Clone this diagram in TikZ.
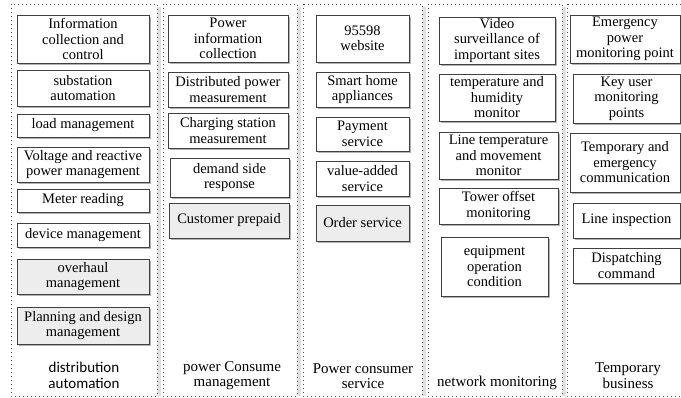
\documentclass[tikz,border=0pt]{standalone}
\usepackage{fontspec}
\setmainfont{Liberation Serif}
\newfontfamily\labelsans{Carlito}
\usetikzlibrary{shadows}

% one service box given by its corners (x1,y1) and (x2,y2)
\newcommand{\cellbox}[7][]{%
  \pgfmathsetmacro\cbw{#5-#3}\pgfmathsetmacro\cbh{#6-#4}%
  \node[box,#1,minimum width=\cbw pt,minimum height=\cbh pt]
    (#2) at ({(#3+#5)/2},{(#4+#6)/2}) {#7};}

% one dotted column frame with its light shadow on the right
\newcommand{\column}[5]{%
  \fill[colshadow] (#4,#3+3) rectangle (#4+3.5,#5);
  \draw[colframe] (#2,#3) rectangle (#4,#5);}

\tikzset{
  box/.style={draw=black!75, line width=0.8pt, fill=white, align=center,
    inner sep=0pt, font=\fontsize{14.5}{15.5}\selectfont,
    drop shadow={shadow xshift=1.8pt, shadow yshift=-1.8pt, fill=black!30, opacity=1}},
  shaded/.style={fill=black!7},
  colframe/.style={draw=black!70, line width=0.7pt, dash pattern=on 0.7pt off 3.3pt},
  colshadow/.style={fill=black!12},
  collabel/.style={align=center, inner sep=0pt, font=\fontsize{15}{15.5}\selectfont},
}

\begin{document}
\begin{tikzpicture}[x=1pt,y=-1pt]
\useasboundingbox (0,0) rectangle (681,398);

% column frames
\column{c1}{11}{4}{157}{396}
\column{c2}{163}{4}{297}{396}
\column{c3}{303}{4}{422}{396}
\column{c4}{428}{4}{562}{396}
\column{c5}{567}{4}{700}{396}

% distribution automation
\cellbox{a1}{17}{15}{149}{63}{Information\\collection and\\control}
\cellbox{a2}{17}{70}{149}{106}{substation\\automation}
\cellbox{a3}{17}{114}{149}{137}{load management}
\cellbox{a4}{17}{147}{149}{182}{Voltage and reactive\\power management}
\cellbox{a5}{17}{189}{149}{212}{Meter reading}
\cellbox{a6}{17}{223}{149}{247}{device management}
\cellbox[shaded]{a7}{17}{259}{149}{294}{overhaul\\management}
\cellbox[shaded]{a8}{17}{307}{149}{344}{Planning and design\\management}
\node[collabel, font=\labelsans\fontsize{15}{15.5}\selectfont] (la) at (84,375.5) {distribution\\automation};

% power Consume management
\cellbox{b1}{168}{15}{288}{62}{Power\\information\\collection}
\cellbox{b2}{168}{72}{288}{107}{Distributed power\\measurement}
\cellbox{b3}{168}{113}{288}{148}{Charging station\\measurement}
\cellbox{b4}{170}{158}{289}{197}{demand side\\response}
\cellbox[shaded]{b5}{169}{203}{289}{238}{Customer prepaid}
\node[collabel] (lb) at (232,375.5) {power Consume\\management};

% Power consumer service
\cellbox{s1}{316}{15}{409}{62}{95598\\website}
\cellbox{s2}{316}{72}{409}{107}{Smart home\\appliances}
\cellbox{s3}{316}{117}{409}{151}{Payment\\service}
\cellbox{s4}{316}{161}{409}{196}{value-added\\service}
\cellbox[shaded]{s5}{316}{205}{409}{241}{Order service}
\node[collabel] (ls) at (363,376) {Power consumer\\service};

% network monitoring
\cellbox{n1}{439}{17}{555}{64}{Video\\surveillance of\\important sites}
\cellbox{n2}{439}{74}{555}{121}{temperature and\\humidity\\monitor}
\cellbox{n3}{439}{132}{558}{179}{Line temperature\\and movement\\monitor}
\cellbox{n4}{439}{188}{558}{224}{Tower offset\\monitoring}
\cellbox{n5}{441}{237}{548}{296}{equipment\\operation\\condition}
\node[collabel] (ln) at (497,383) {network monitoring};

% Temporary business
\cellbox{t1}{570}{15}{680}{63}{Emergency\\power\\monitoring point}
\cellbox{t2}{573}{74}{680}{123}{Key user\\monitoring\\points}
\cellbox{t3}{570}{133}{680}{192}{Temporary and\\emergency\\communication}
\cellbox{t4}{573}{203}{680}{238}{Line inspection}
\cellbox{t5}{573}{248}{680}{283}{Dispatching\\command}
\node[collabel] (lt) at (628,375.5) {Temporary\\business};
\end{tikzpicture}
\end{document}
